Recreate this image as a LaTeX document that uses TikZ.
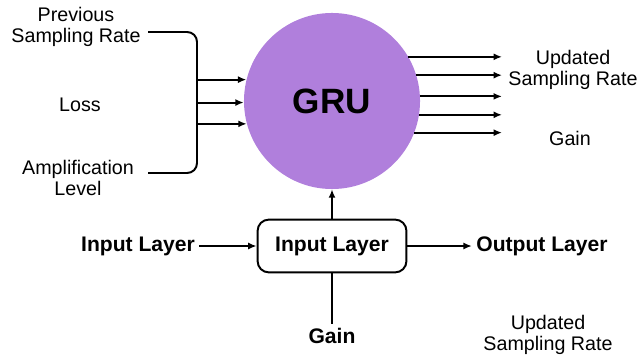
\documentclass[tikz,border=0pt]{standalone}
\usepackage{fontspec}
\setmainfont{Liberation Sans}
\usepackage{xcolor}
\usetikzlibrary{arrows.meta}
\definecolor{grupurple}{RGB}{176,127,220}

\begin{document}
\begin{tikzpicture}
[x=0.025cm,y=-0.025cm]
\tikzset{
	gru/.style = {circle, fill=grupurple, minimum size=4.4cm, inner sep=0, font=\fontsize{25}{30}\selectfont\bfseries},
	box/.style = {draw, rounded corners=8pt, line width=1.4pt, minimum width=3.72cm, minimum height=1.32cm, font=\fontsize{15}{17}\selectfont\bfseries},
	lbl/.style = {align=center, inner sep=2pt, font=\fontsize{14}{14.5}\selectfont},
	blbl/.style = {inner sep=3pt, font=\fontsize{15}{17}\selectfont\bfseries},
	arr/.style = {line width=1.4pt, -{Latex[length=6pt,width=5pt]}}
}
\useasboundingbox (0,0) rectangle (642,360);

\node (gru) [gru] at (332,101) {GRU};

\node (prev) [lbl] at (76,27) {Previous\\Sampling Rate};
\node (loss) [lbl] at (80,105) {Loss};
\node (ampl) [lbl] at (78,178) {Amplification\\Level};

\coordinate (brtop) at (148,32);
\coordinate (brbot) at (148,173);
\coordinate (brk) at (197,101);
\draw [line width=1.4pt, rounded corners=7pt] (brtop) -- (brtop -| brk) -- (brbot -| brk) -- (brbot);
\foreach \a in {166,181,195}
	\draw [arr] (gru.\a -| brk) -- (gru.\a);

\coordinate (outx) at (502,101);
\foreach \a in {30,17,3,-9,-21}
	\draw [arr] (gru.\a) -- (gru.\a -| outx);

\node (upd) [lbl] at (573,70) {Updated\\Sampling Rate};
\node (gainr) [lbl] at (570,138) {Gain};

\node (inbox) [box] at (332,246) {Input Layer};
\node (inl) [blbl] at (138,246) {Input Layer};
\node (outl) [blbl] at (542,246) {Output Layer};
\node (gain) [blbl] at (332,336) {Gain};
\node (upd2) [lbl] at (548,335) {Updated\\Sampling Rate};

\draw [arr] (inl) -- (inbox);
\draw [arr] (inbox) -- (outl);
\draw [arr] (inbox) -- (gru);
\draw [line width=1.4pt] (gain) -- (inbox);
\end{tikzpicture}
\end{document}
